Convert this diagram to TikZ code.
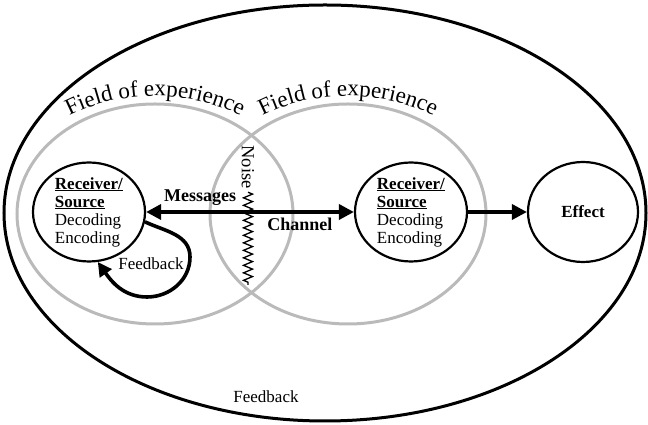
\documentclass[tikz,border=0pt]{standalone}
\usepackage{fontspec}
\setmainfont{Liberation Serif}
\usetikzlibrary{shapes.geometric,arrows.meta,decorations.text,decorations.pathmorphing}
\definecolor{ringgray}{RGB}{186,186,186}
\newcommand\fieldfont{\fontsize{23}{25}\selectfont}
\begin{document}
\begin{tikzpicture}[x=1pt,y=1pt,
    font=\fontsize{17}{18}\selectfont,
    party/.style={draw,ellipse,line width=2.2pt,inner sep=0pt,align=left,minimum width=112pt,minimum height=99pt},
    bigarrow/.style={line width=3.6pt,-{Triangle[length=15pt,width=15pt]}},
    fieldring/.style={draw=ringgray,line width=3pt},
    fieldtext/.style={decorate,decoration={text along path,text align=center,text={|\fieldfont|Field of experience}}}]
    \useasboundingbox (0,0) rectangle (648,425);
    %% Outer ring
    \draw[line width=3pt] (325,212) ellipse [x radius=321,y radius=208];
    %% Fields of experience
    \draw[fieldring] (155,211) ellipse [x radius=138,y radius=110];
    \draw[fieldring] (348,211) ellipse [x radius=138,y radius=110];
    \path[fieldtext] (155,204) ++(127:158 and 125) arc [start angle=127,end angle=53,x radius=158,y radius=125];
    \path[fieldtext] (348,204) ++(127:158 and 125) arc [start angle=127,end angle=53,x radius=158,y radius=125];
    %% Parties
    \node[party] (src) at (89,213) {\underline{\textbf{Receiver/}}\\\underline{\textbf{Source}}\\Decoding\\Encoding};
    \node[party] (rcv) at (411,213) {\underline{\textbf{Receiver/}}\\\underline{\textbf{Source}}\\Decoding\\Encoding};
    \node[party,minimum width=110pt,minimum height=100pt] (eff) at (583,213) {\textbf{Effect}};
    %% Noise
    \node[rotate=-90,anchor=west,font=\fontsize{18.5}{18}\selectfont] (noise) at (248,283) {Noise};
    \coordinate (noiseend) at (248,140);
    \draw[line width=1.3pt,decorate,decoration={zigzag,segment length=7.5pt,amplitude=4.5pt}] (noise.east) -- (noiseend);
    %% Messages
    \draw[bigarrow,{Triangle[length=15pt,width=15pt]}-{Triangle[length=15pt,width=15pt]}] (src.east) -- (rcv.west)
        node[pos=0.26,above=1pt,font=\fontsize{18}{18}\selectfont\bfseries] (msg) {Messages}
        node[pos=0.74,below=1pt,font=\fontsize{18}{18}\selectfont\bfseries] (chan) {Channel};
    \draw[bigarrow] (rcv.east) -- (eff.west);
    %% Feedback
    \draw[line width=3.6pt,-{Triangle[length=14pt,width=14pt]}] (src.-10) to[out=-25,in=90] (190,168) to[out=-90,in=0] (147,128) to[out=180,in=-55] (src.-80);
    \node (fbloop) at (151,161) {Feedback};
    \node (fbouter) at (266,28) {Feedback};
\end{tikzpicture}
\end{document}
